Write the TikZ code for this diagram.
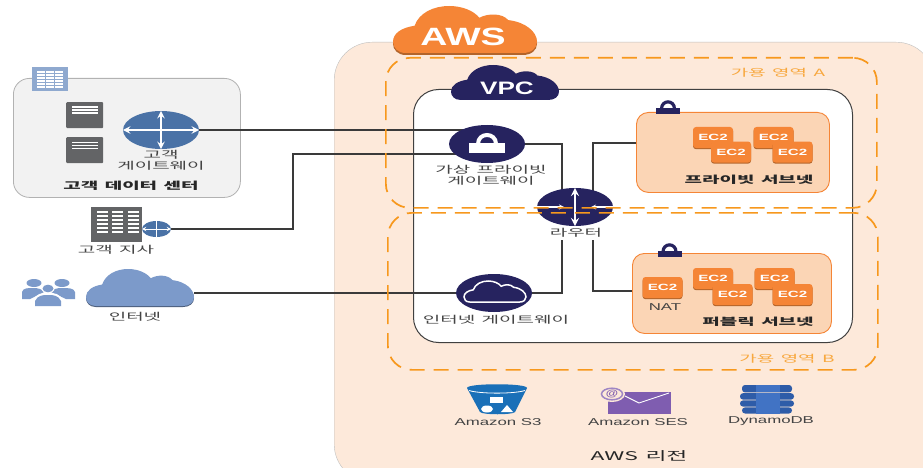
\documentclass[tikz,border=0pt]{standalone}
\usepackage{fontspec}
\setmainfont{Liberation Sans}
\newfontfamily\kr{Noto Sans CJK KR}[FakeStretch=1.9,WordSpace=1.5]
\newfontfamily\lat{Liberation Sans}[FakeStretch=1.68]
\usetikzlibrary{shapes.geometric}
\pgfdeclarelayer{bglayer}\pgfdeclarelayer{linelayer}\pgfdeclarelayer{toplayer}
\pgfsetlayers{bglayer,linelayer,main,toplayer}
\definecolor{regionfill}{HTML}{FDE9DA}
\definecolor{awsor}{HTML}{F58536}
\definecolor{awsdark}{HTML}{B3642A}
\definecolor{azdash}{HTML}{F7981D}
\definecolor{navy}{HTML}{26235F}
\definecolor{rblue}{HTML}{4A72A6}
\definecolor{cloudblue}{HTML}{7C9ACA}
\definecolor{iconblue}{HTML}{8FA9CF}
\definecolor{srv}{HTML}{636466}
\definecolor{subnetfill}{HTML}{FBD5B5}
\definecolor{txt}{HTML}{444444}
\definecolor{wire}{HTML}{3A3A3A}
\definecolor{sthree}{HTML}{1A70B8}
\definecolor{sesp}{HTML}{7F5DB0}
\definecolor{ddba}{HTML}{2E5CA8}
\definecolor{ddbb}{HTML}{4173C4}
\newcommand{\cloudshape}{(0.09,1) .. controls (0.03,1) and (0,0.88) .. (0,0.76) .. controls (0,0.58) and (0.06,0.46) .. (0.15,0.42) .. controls (0.18,0.15) and (0.28,0) .. (0.39,0) .. controls (0.48,0) and (0.56,0.1) .. (0.6,0.25) .. controls (0.66,0.15) and (0.76,0.15) .. (0.8,0.3) .. controls (0.92,0.34) and (1,0.55) .. (1,0.76) .. controls (1,0.9) and (0.96,1) .. (0.9,1) -- cycle}
% \padlock{x}{y}: centre x, bottom y
\newcommand{\padlock}[2]{\fill[navy] (#1-12,#2-6) rectangle (#1+12,#2);
 \draw[navy,line width=3.2pt] (#1-6.5,#2-5) .. controls (#1-6.5,#2-14.5) and (#1+6.5,#2-14.5) .. (#1+6.5,#2-5);}
\tikzset{
 x=1pt,y=-1pt,
 lab/.style={font=\kr\fontsize{10}{11}\selectfont,text=txt,inner sep=0,align=center},
 labb/.style={font=\kr\fontsize{10}{11}\selectfont\bfseries,text=black!85,inner sep=0,align=center},
 latlab/.style={font=\lat\fontsize{10}{11}\selectfont,text=txt,inner sep=0},
 azlab/.style={font=\kr\fontsize{10}{11}\selectfont,text=azdash!85,inner sep=0},
 wirel/.style={draw=wire,line width=1.5pt},
 wireh/.style={draw=wire,line width=2.2pt},
 gw/.style={ellipse,fill=#1,inner sep=0,minimum width=76pt,minimum height=38pt},
 box/.style={rectangle,inner sep=0,anchor=north west},
 ec2/.style={rectangle,fill=awsor,rounded corners=3pt,inner sep=0,minimum width=40pt,minimum height=21pt,
   text=white,font=\lat\fontsize{9}{10}\selectfont\bfseries,
   preaction={fill=awsdark,transform canvas={yshift=-1.2pt}}},
 subnet/.style={rectangle,draw=awsor,fill=subnetfill,line width=.9pt,rounded corners=12pt,inner sep=0},
 az/.style={rectangle,draw=azdash,line width=1.7pt,dash pattern=on 15pt off 9pt,rounded corners=24pt,inner sep=0},
 whar/.style={draw=white,line width=2.3pt,>=stealth},
}
\begin{document}
\begin{tikzpicture}
\useasboundingbox (0,0) rectangle (923,468);

\begin{pgfonlayer}{bglayer}
\fill[white] (0,0) rectangle (923,468);
\node[box,fill=regionfill,draw=black!25,rounded corners=38pt,minimum width=600pt,minimum height=440pt] (region) at (334,42) {};
\node[box,fill=black!5,draw=black!30,line width=.8pt,rounded corners=16pt,minimum width=227pt,minimum height=119pt] (dc) at (13,78) {};
\node[box,fill=white,draw=black!75,line width=1pt,rounded corners=25pt,minimum width=439pt,minimum height=253pt] (vpc) at (413,89) {};
\end{pgfonlayer}

% Gateways and router
\node[gw=rblue] (cgw) at (161,130) {};
\node[gw=navy] (vgw) at (487,144) {};
\node[gw=navy] (router) at (575,207) {};
\node[gw=navy] (igw) at (494,293) {};
\node[ellipse,fill=rblue,inner sep=0,minimum width=29pt,minimum height=16pt] (brr) at (156.5,229) {};

% Customer gateway arrows
\draw[whar,<->] (cgw.west) -- (cgw.east);
\draw[whar,<->] (cgw.north) -- (cgw.south);
\draw[white,line width=1pt,<->,>=stealth] (brr.west) -- (brr.east);
\draw[white,line width=1pt] (brr.north) -- (brr.south);
% Router arrows
\draw[whar,<->,line width=2.6pt] (router.north) -- (router.south);
\draw[white,line width=1.2pt,->,>=stealth] (router.west) -- (564,207);
\draw[white,line width=1.2pt,->,>=stealth] (router.east) -- (591,207);

% VGW padlock
\fill[white] (469,143) rectangle (505,153);
\draw[white,line width=4pt] (478,144) .. controls (478,132) and (496,132) .. (496,144);

% IGW cloud
\begin{scope}[shift={(464,281)},xscale=62,yscale=21]
\draw[white,line width=1.5pt] \cloudshape;
\end{scope}

% AWS / VPC clouds
\begin{scope}[shift={(393,8)},xscale=144,yscale=47]
\fill[awsdark] \cloudshape;
\end{scope}
\begin{scope}[shift={(393,6)},xscale=144,yscale=47]
\fill[awsor] \cloudshape;
\end{scope}
\node[inner sep=0,text=white,font=\fontsize{25}{26}\selectfont\bfseries] (awstxt) at (463,37) {\scalebox{1.5}[1]{AWS}};
\begin{scope}[shift={(451,65)},xscale=108,yscale=35]
\fill[navy] \cloudshape;
\end{scope}
\node[inner sep=0,text=white,font=\fontsize{18}{19}\selectfont\bfseries] (vpctxt) at (507,88) {\scalebox{1.45}[1]{VPC}};

% Internet cloud
\begin{scope}[shift={(86,270)},xscale=108,yscale=37]
\fill[black!40!cloudblue] \cloudshape;
\end{scope}
\begin{scope}[shift={(86,269)},xscale=108,yscale=37]
\fill[cloudblue] \cloudshape;
\end{scope}
\coordinate (inetr) at (194,293);

% Data centre icons
\node[box,fill=iconblue,minimum width=36pt,minimum height=24pt] (dcicon) at (32,67) {};
\foreach \cx in {37,46,55}{\foreach \ry in {71,74,77,80,83,86}{\fill[white] (\cx,\ry) rectangle (\cx+8,\ry+1.6);}}
\node[box,fill=srv,rounded corners=1pt,minimum width=37pt,minimum height=26pt] (srva) at (66,102) {};
\node[box,fill=srv,rounded corners=1pt,minimum width=37pt,minimum height=26pt] (srvb) at (66,137) {};
\foreach \sy in {102,137}{\foreach \ry in {4.5,7.5,10.5}{\fill[white] (72,\sy+\ry) rectangle (98,\sy+\ry+1.3);}}

% Branch building
\node[box,fill=srv,minimum width=51pt,minimum height=35pt] (branch) at (91,207) {};
\foreach \cx in {97,112,128}{\foreach \ry in {211,215,219,223,227,231}{\fill[white] (\cx,\ry) rectangle (\cx+11,\ry+2);}}

% People
\fill[cloudblue] (34,283) ellipse[x radius=7.5,y radius=4];
\fill[cloudblue] (62,283) ellipse[x radius=7.5,y radius=4];
\fill[cloudblue] (22,299) -- (22,292) .. controls (23,288) and (28,288) .. (33,288) .. controls (38,288) and (42,289) .. (44,292) -- (30,299) -- cycle;
\fill[cloudblue] (75,299) -- (75,292) .. controls (74,288) and (68,288) .. (62,288) .. controls (57,288) and (53,289) .. (51,292) -- (66,299) -- cycle;
\fill[white] (48,288.5) ellipse[x radius=6.5,y radius=4.8];
\fill[cloudblue] (48,288.5) ellipse[x radius=5.5,y radius=3.8];
\fill[white] (33,307) -- (33,301) .. controls (36,293) and (42,293) .. (48,293) .. controls (54,293) and (60,293) .. (63,301) -- (63,307) -- cycle;
\fill[cloudblue] (35,306) -- (35,301) .. controls (38,295) and (43,295) .. (48,295) .. controls (53,295) and (58,295) .. (61,301) -- (61,306) -- cycle;

% Subnets
\node[box,subnet,minimum width=193pt,minimum height=80pt] (priv) at (636,112) {};
\node[box,subnet,minimum width=199pt,minimum height=80pt] (pub) at (632,253) {};
\padlock{668}{114}
\padlock{669.5}{257}

\node[ec2] (ea) at (713,137.5) {EC2};
\node[ec2] (eb) at (731,152) {EC2};
\node[ec2] (ec) at (773.5,137.5) {EC2};
\node[ec2] (ed) at (792.5,152) {EC2};
\node[ec2] (nat) at (662.5,287.5) {EC2};
\node[ec2] (ee) at (713,278.5) {EC2};
\node[ec2] (ef) at (732.5,294.5) {EC2};
\node[ec2] (eg) at (774.5,278.5) {EC2};
\node[ec2] (eh) at (792.5,294.5) {EC2};

% Connectors
\begin{pgfonlayer}{linelayer}
\coordinate (cgwin) at (470,130);
\coordinate (brin) at (470,154);
\coordinate (rl) at (562,197);
\coordinate (rlb) at (562,240);
\coordinate (rr) at (593,197);
\coordinate (rrb) at (593,240);
\draw[wirel] (cgw.east) -- (cgwin);
\draw[wireh,line join=miter] (brr.east) -- (293,229) -- (293,154) -- (brin);
\draw[wirel] (inetr) -- (igw.west);
\draw[wirel] (vgw.east) -| (rl);
\draw[wirel] (igw.east) -| (rlb);
\draw[wirel] (priv.west |- 0,143) -| (rr);
\draw[wirel] (pub.west |- 0,291) -| (rrb);
\end{pgfonlayer}

% Availability zones, above everything
\begin{pgfonlayer}{toplayer}
\node[box,az,minimum width=491pt,minimum height=150pt] (aza) at (385,57) {};
\node[box,az,minimum width=490pt,minimum height=157pt] (azb) at (387,212) {};
\end{pgfonlayer}

% S3
\fill[sthree] (467,388) .. controls (467,383) and (527,383) .. (527,388) -- (515,412) .. controls (513,415) and (482,415) .. (480,412) -- cycle;
\draw[white,line width=.8pt] (469,390.5) .. controls (480,394) and (514,394) .. (525,390.5);
\fill[white] (490,396.5) rectangle (503,403);
\fill[white] (487,409) ellipse[x radius=6,y radius=3.5];
\fill[white] (501,412) -- (507,405) -- (513,412) -- cycle;
\node[latlab] (s3) at (498,422) {Amazon S3};

% SES
\fill[sesp] (608,392) rectangle (671,414);
\draw[white,line width=.9pt] (625,396) -- (639,403) -- (669,393);
\fill[regionfill] (612,394) ellipse[x radius=13,y radius=8];
\draw[sesp!75,line width=1.5pt] (612,394) ellipse[x radius=10.5,y radius=5.8];
\node[inner sep=0,text=sesp,font=\fontsize{9}{9}\selectfont\bfseries] (atsign) at (612,394) {\scalebox{1.4}[1]{@}};
\node[latlab] (ses) at (638,422) {Amazon SES};

% DynamoDB
\fill[ddba,rounded corners=3pt] (742,385) rectangle (792,392.4);
\fill[ddba,rounded corners=3pt] (740,393.2) rectangle (794,399.6);
\fill[ddba,rounded corners=3pt] (740,400.4) rectangle (794,406.6);
\fill[ddba,rounded corners=3pt] (742,407.4) rectangle (792,413.5);
\fill[ddbb] (756,385) rectangle (780,392.4);
\fill[ddbb] (756,393.2) rectangle (780,399.6);
\fill[ddbb] (756,400.4) rectangle (780,406.6);
\fill[ddbb] (756,407.4) rectangle (780,413.5);
\node[latlab] (ddb) at (771,421) {DynamoDB};

% Labels
\node[lab] (t1) at (161,155) {고객};
\node[lab] (t2) at (161,166) {게이트웨이};
\node[labb] (t3) at (131,186) {고객 데이터 센터};
\node[lab] (t4) at (116,250) {고객 지사};
\node[lab] (t5) at (135,317) {인터넷};
\node[lab] (t6) at (491,170) {가상 프라이빗};
\node[lab] (t7) at (491,181) {게이트웨이};
\node[lab] (t8) at (576,233) {라우터};
\node[lab] (t9) at (496,320) {인터넷 게이트웨이};
\node[azlab] (t10) at (778,73) {가용 영역 A};
\node[azlab] (t11) at (787,359) {가용 영역 B};
\node[labb] (t12) at (749,180) {프라이빗 서브넷};
\node[labb] (t13) at (758,322) {퍼블릭 서브넷};
\node[latlab] (t14) at (665,307) {NAT};
\node[lab,text=black!85,font=\kr\fontsize{12}{13}\selectfont] (t15) at (639,456) {AWS 리전};
\end{tikzpicture}
\end{document}
